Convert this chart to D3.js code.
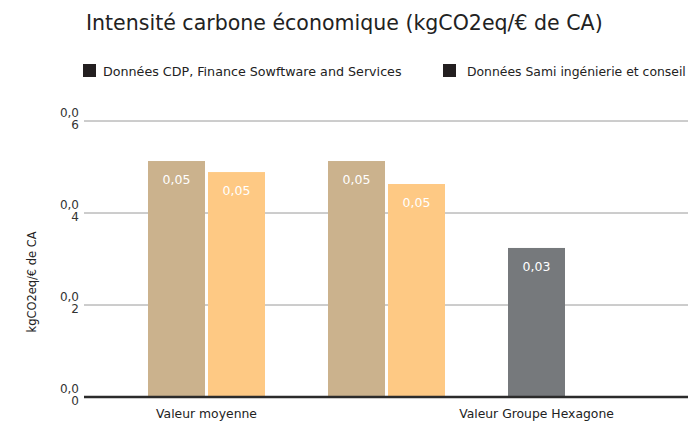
<!DOCTYPE html>
<html><head><meta charset="utf-8">
<script src="https://cdn.jsdelivr.net/npm/d3@7"></script>
<style>body{margin:0;background:#fff}svg{display:block}</style>
</head><body>
<svg id="c" width="688" height="422"></svg>
<script>
const title = "Intensité carbone économique (kgCO2eq/€ de CA)";
const yTitle = "kgCO2eq/€ de CA";
const legendLabels = ["Données CDP, Finance Sowftware and Services", "Données Sami ingénierie et conseil"];
const slots = ["cdpMoy", "samiMoy", "gapA", "cdpHex", "samiHex", "gapB", "groupe"];
const barSlots = ["cdpMoy", "samiMoy", "cdpHex", "samiHex", "groupe"];
const barValues = [0.0513, 0.0489, 0.0513, 0.0463, 0.0324];
const barSeries = ["cdp", "sami", "cdp", "sami", "groupe"];
const categoryLabels = ["Valeur moyenne", "Valeur Groupe Hexagone"];
const categorySlots = [["cdpMoy", "samiMoy"], ["groupe"]];
const yTicks = [0, 0.02, 0.04, 0.06];

const colors = {cdp: "#CBB28D", sami: "#FEC984", groupe: "#76797C"};
const font = "'DejaVu Sans', sans-serif";
const svg = d3.select("#c");

const x = d3.scaleBand().domain(slots).range([148, 565]).paddingInner(0.05).paddingOuter(0);
const y = d3.scaleLinear().domain([0, 0.06]).range([397, 121]);
const fmt = v => d3.format(".2f")(v).replace(".", ",");

// scale a text's font-size so that its width matches the reference width
function fit(sel, base, width) {
  sel.attr("font-size", base);
  const w = sel.node().getComputedTextLength();
  sel.attr("font-size", base * width / w);
  return sel;
}

fit(svg.append("text").attr("x", 86).attr("y", 30).attr("font-family", font)
  .attr("fill", "#222").text(title), 20, 517);

// legend
const leg = svg.append("g");
[[83, 103, 299], [443, 467, 219]].forEach((p, i) => {
  leg.append("rect").attr("x", p[0]).attr("y", 64).attr("width", 13).attr("height", 13).attr("fill", "#231f20");
  fit(leg.append("text").attr("x", p[1]).attr("y", 76).attr("font-family", font)
    .attr("fill", "#222").text(legendLabels[i]), 12, p[2]);
});

// grid
const gridG = svg.append("g");
yTicks.filter(t => t > 0).forEach(t => {
  gridG.append("line").attr("x1", 84).attr("x2", 688).attr("y1", y(t)).attr("y2", y(t))
    .attr("stroke", "#9a9a9a").attr("stroke-width", 1);
});
// y tick labels (wrapped)
yTicks.forEach(t => {
  const s = fmt(t);
  const tx = svg.append("text").attr("font-family", font).attr("font-size", 12).attr("fill", "#333")
    .attr("text-anchor", "end");
  tx.append("tspan").attr("x", 79).attr("y", y(t) - 4).text(s.slice(0, 3));
  tx.append("tspan").attr("x", 79).attr("y", y(t) + 8).text(s.slice(3));
});
fit(svg.append("text").attr("transform", `translate(36,282) rotate(-90)`).attr("text-anchor", "middle")
  .attr("font-family", font).attr("fill", "#222").text(yTitle), 12, 101);

// bars
const bars = barSlots.map((s, i) => ({slot: s, v: barValues[i], series: barSeries[i]}));
svg.append("g").selectAll("rect").data(bars).join("rect")
  .attr("x", d => x(d.slot)).attr("width", x.bandwidth())
  .attr("y", d => y(d.v)).attr("height", d => y(0) - y(d.v))
  .attr("fill", d => colors[d.series]);
svg.append("g").selectAll("text").data(bars).join("text")
  .attr("x", d => x(d.slot) + x.bandwidth() / 2).attr("y", d => y(d.v) + 23)
  .attr("text-anchor", "middle").attr("font-family", font).attr("font-size", 12.5)
  .attr("fill", "#fff").text(d => fmt(d.v));

// baseline
svg.append("line").attr("x1", 84).attr("x2", 688).attr("y1", y(0)).attr("y2", y(0))
  .attr("stroke", "#2b2b2b").attr("stroke-width", 2.5);

// category labels
const catWidths = [101, 155];
categoryLabels.forEach((c, i) => {
  const ss = categorySlots[i];
  const cx = (x(ss[0]) + x(ss[ss.length - 1]) + x.bandwidth()) / 2;
  fit(svg.append("text").attr("x", cx).attr("y", 418).attr("text-anchor", "middle")
    .attr("font-family", font).attr("fill", "#222").text(c), 12, catWidths[i]);
});
</script>
</body></html>
